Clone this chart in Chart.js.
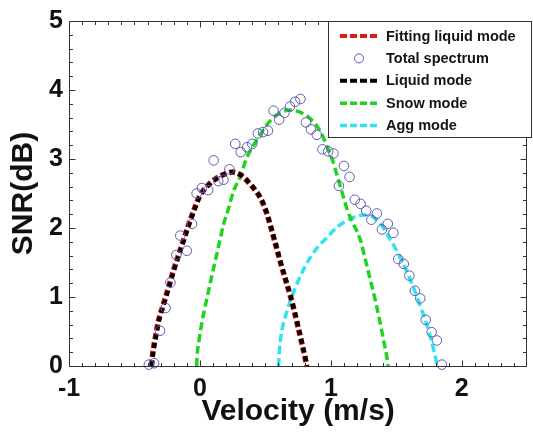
<!DOCTYPE html>
<html><head><meta charset="utf-8">
<script src="https://cdn.jsdelivr.net/npm/chart.js@4.4.1/dist/chart.umd.min.js"></script>
<style>html,body{margin:0;padding:0;background:#fff;overflow:hidden}</style>
</head><body>
<canvas id="c" width="533" height="436"></canvas>
<script>
// ---- data ----
const xTickValues = [-1, 0, 1, 2];
const yTickValues = [0, 1, 2, 3, 4, 5];

const liquidX = [-0.368,-0.358,-0.337,-0.313,-0.275,-0.237,-0.200,-0.162,-0.125,-0.087,-0.037,0.000,0.050,0.113,0.188,0.250,0.326,0.388,0.439,0.476,0.514,0.545,0.580,0.614,0.651,0.689,0.722,0.752,0.784,0.814,0.818];
const liquidY = [0,0.18,0.42,0.66,0.90,1.14,1.38,1.60,1.81,2.03,2.29,2.46,2.59,2.70,2.78,2.81,2.75,2.63,2.51,2.39,2.20,2.00,1.76,1.52,1.28,1.04,0.80,0.56,0.30,0.04,0];

const fitX = [-0.371,-0.361,-0.340,-0.316,-0.278,-0.240,-0.203,-0.165,-0.128,-0.090,-0.040,-0.003,0.047,0.110,0.186,0.248,0.324,0.386,0.437,0.474,0.512,0.543,0.578,0.612,0.649,0.687,0.720,0.750,0.782,0.812,0.816];
const fitY = [0,0.18,0.42,0.66,0.90,1.14,1.38,1.60,1.81,2.03,2.29,2.46,2.59,2.70,2.78,2.81,2.75,2.63,2.51,2.39,2.20,2.00,1.76,1.52,1.28,1.04,0.80,0.56,0.30,0.04,0];

const snowX = [-0.025,-0.022,-0.007,0.018,0.050,0.083,0.118,0.151,0.180,0.213,0.258,0.309,0.358,0.414,0.476,0.539,0.614,0.689,0.764,0.852,0.920,0.965,1.015,1.053,1.090,1.128,1.175,1.228,1.265,1.303,1.340,1.373,1.403,1.428,1.438];
const snowY = [0,0.13,0.37,0.66,0.95,1.24,1.53,1.81,2.05,2.25,2.54,2.75,3.02,3.21,3.40,3.56,3.67,3.71,3.68,3.57,3.40,3.21,2.97,2.73,2.49,2.25,2.05,1.81,1.53,1.24,0.95,0.66,0.37,0.13,0];

const aggX = [0.600,0.604,0.609,0.627,0.659,0.702,0.752,0.814,0.890,0.960,1.040,1.115,1.215,1.270,1.320,1.380,1.440,1.503,1.578,1.641,1.696,1.746,1.786,1.806,1.808];
const aggY = [0,0.10,0.27,0.52,0.76,1.00,1.24,1.48,1.70,1.84,2.00,2.10,2.18,2.19,2.16,2.06,1.88,1.67,1.38,1.09,0.80,0.52,0.23,0.05,0];

const totalX = [-0.39,-0.35,-0.305,-0.262,-0.225,-0.18,-0.10,-0.15,-0.06,-0.025,0.015,0.063,0.105,0.14,0.18,0.225,0.27,0.312,0.36,0.40,0.443,0.482,0.52,0.563,0.605,0.646,0.688,0.728,0.768,0.81,0.848,0.893,0.936,0.98,1.02,1.10,1.143,1.062,1.183,1.227,1.27,1.31,1.352,1.39,1.435,1.478,1.515,1.557,1.60,1.642,1.683,1.725,1.77,1.81,1.848];
const totalY = [0.02,0.04,0.51,0.84,1.21,1.61,1.67,1.89,2.06,2.50,2.58,2.55,2.98,2.68,2.70,2.85,3.22,3.10,3.17,3.22,3.37,3.39,3.41,3.70,3.57,3.67,3.76,3.83,3.87,3.53,3.43,3.35,3.14,3.11,3.08,2.90,2.74,2.61,2.41,2.35,2.25,2.12,2.21,1.98,2.06,1.93,1.55,1.48,1.31,1.09,0.98,0.67,0.49,0.37,0.02];

const labels = ['Fitting liquid mode','Total spectrum','Liquid mode','Snow mode','Agg mode'];

const pts = (xs, ys) => xs.map((v, i) => ({x: v, y: ys[i]}));
const FONT = "'Liberation Sans', Arial, Helvetica, sans-serif";

const curve = (label, xs, ys, color, width, dash, order) => ({
  label, data: pts(xs, ys), showLine: true, borderColor: color, backgroundColor: color,
  borderWidth: width, borderDash: dash, pointRadius: 0, pointHoverRadius: 0,
  cubicInterpolationMode: 'monotone', fill: false, order
});

const datasets = [
  curve(labels[0], fitX, fitY, '#e01818', 5.5, [6, 3], 3),
  { label: labels[1], data: pts(totalX, totalY), showLine: false, pointRadius: 4.8,
    pointBorderWidth: 1, pointBorderColor: '#5c5cb4', pointBackgroundColor: 'rgba(0,0,0,0)',
    borderColor: '#5c5cb4', clip: false, order: 0 },
  curve(labels[2], liquidX, liquidY, '#000000', 4.5, [5, 4], 2),
  curve(labels[3], snowX, snowY, '#1ed41e', 3.5, [8, 4], 4),
  curve(labels[4], aggX, aggY, '#2fe3f0', 3.5, [8, 4], 5)
];

const framePlugin = {
  id: 'frameTicks',
  afterDraw(chart) {
    const {ctx, chartArea: a, scales: {x, y}} = chart;
    ctx.save();
    ctx.strokeStyle = '#333';
    ctx.lineWidth = 1;
    const L = Math.round(a.left) + 0.5, R = Math.round(a.right) - 0.5;
    const T = Math.round(a.top) + 0.5, B = Math.round(a.bottom) + 0.5;
    ctx.beginPath();
    ctx.moveTo(L, T); ctx.lineTo(R, T); ctx.lineTo(R, B); ctx.lineTo(L, B); ctx.closePath();
    ctx.stroke();
    ctx.beginPath();
    for (let i = -10; i <= 25; i++) {
      const px = Math.round(x.getPixelForValue(i / 10)) + 0.5;
      if (px > R) continue;
      const len = (i % 10 === 0) ? 6 : 3.5;
      ctx.moveTo(px, B); ctx.lineTo(px, B - len);
      ctx.moveTo(px, T); ctx.lineTo(px, T + len);
    }
    for (let i = 0; i <= 25; i++) {
      const py = Math.round(y.getPixelForValue(i / 5)) + 0.5;
      const len = (i % 5 === 0) ? 6 : 3.5;
      ctx.moveTo(L, py); ctx.lineTo(L + len, py);
      ctx.moveTo(R, py); ctx.lineTo(R - len, py);
    }
    ctx.stroke();

    // legend box inside the plot
    const bx = 328.5, by = 21.5, bw = 203, bh = 116;
    ctx.fillStyle = '#fff';
    ctx.fillRect(bx, by, bw, bh);
    ctx.strokeStyle = '#333';
    ctx.strokeRect(bx, by, bw, bh);
    ctx.font = 'bold 14.5px ' + FONT;
    ctx.textBaseline = 'middle';
    ctx.textAlign = 'left';
    chart.data.datasets.forEach((ds, i) => {
      const cy = 36 + i * 22.4;
      if (ds.showLine) {
        ctx.save();
        ctx.strokeStyle = ds.borderColor;
        ctx.lineWidth = Math.min(ds.borderWidth, 4);
        ctx.setLineDash([7, 3]);
        ctx.beginPath(); ctx.moveTo(340, cy); ctx.lineTo(380, cy); ctx.stroke();
        ctx.restore();
      } else {
        ctx.beginPath();
        ctx.strokeStyle = ds.pointBorderColor;
        ctx.lineWidth = 1;
        ctx.arc(359, cy, 4.5, 0, Math.PI * 2);
        ctx.stroke();
      }
      ctx.fillStyle = '#151515';
      ctx.fillText(ds.label, 386, cy + 0.5);
    });
    ctx.restore();
  }
};

new Chart(document.getElementById('c'), {
  type: 'scatter',
  data: { datasets },
  options: {
    responsive: false, animation: false, devicePixelRatio: 1,
    layout: { padding: { top: 19, right: 1, left: 0, bottom: 0 } },
    plugins: { legend: { display: false }, tooltip: { enabled: false } },
    scales: {
      x: {
        type: 'linear', min: -1, max: 2.5,
        afterBuildTicks: s => { s.ticks = xTickValues.map(v => ({value: v})); },
        afterFit: s => { s.height = 70; },
        grid: { display: false, drawTicks: false },
        border: { display: false },
        ticks: { padding: 8, color: '#111', font: { family: FONT, size: 25, weight: 'bold' }, callback: v => String(v) },
        title: { display: true, text: 'Velocity (m/s)', color: '#111', padding: { top: 0, bottom: 6 },
                 font: { family: FONT, size: 30, weight: 'bold' } }
      },
      y: {
        type: 'linear', min: 0, max: 5,
        afterBuildTicks: s => { s.ticks = yTickValues.map(v => ({value: v})); },
        afterFit: s => { s.width = 69; },
        grid: { display: false, drawTicks: false },
        border: { display: false },
        ticks: { padding: 6, color: '#111', font: { family: FONT, size: 25, weight: 'bold' }, callback: v => String(v) },
        title: { display: true, text: 'SNR(dB)', color: '#111', padding: { top: 6, bottom: 0 },
                 font: { family: FONT, size: 30, weight: 'bold' } }
      }
    }
  },
  plugins: [framePlugin]
});
</script>
</body></html>
